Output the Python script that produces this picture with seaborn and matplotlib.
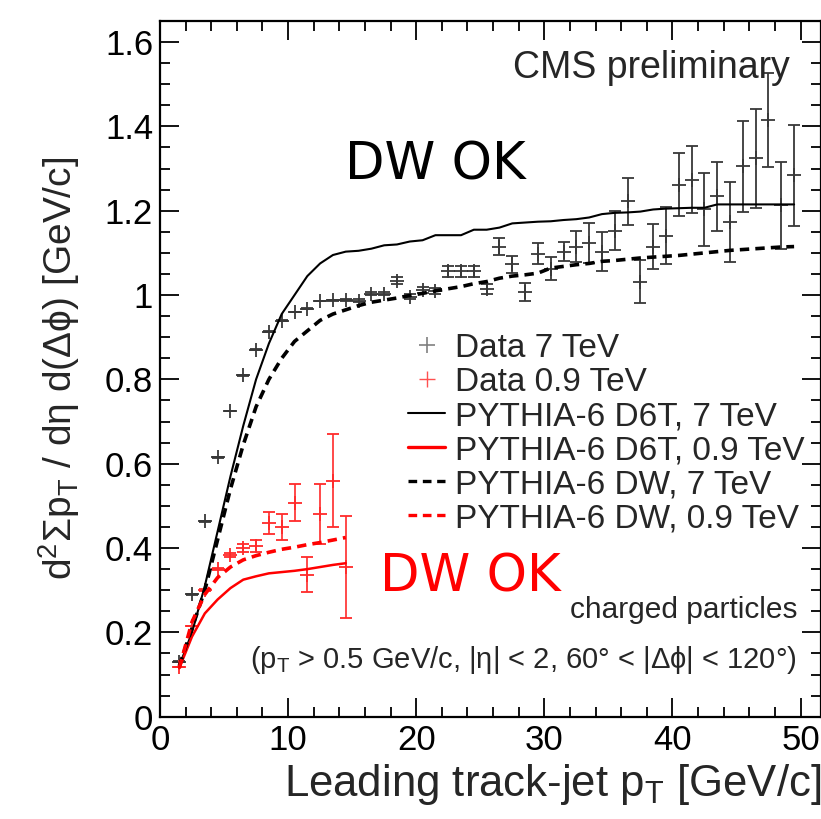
import matplotlib
matplotlib.use("Agg")
import matplotlib.pyplot as plt
import seaborn as sns
import pandas as pd
from matplotlib.lines import Line2D
from matplotlib.ticker import MultipleLocator

# ---------------- data ----------------
x_7 = [1.5, 2.5, 3.5, 4.5, 5.5, 6.5, 7.5, 8.5, 9.5, 10.5, 11.5, 12.5, 13.5, 14.5,
       15.5, 16.5, 17.5, 18.5, 19.5, 20.5, 21.5, 22.5, 23.5, 24.5, 25.5, 26.5, 27.5,
       28.5, 29.5, 30.5, 31.5, 32.5, 33.5, 34.5, 35.5, 36.5, 37.5, 38.5, 39.5, 40.5,
       41.5, 42.5, 43.5, 44.5, 45.5, 46.5, 47.5, 48.5, 49.5]
data_7 = [0.13, 0.29, 0.463, 0.615, 0.725, 0.81, 0.87, 0.913, 0.939, 0.96, 0.968,
          0.986, 0.988, 0.989, 0.987, 1.003, 1.003, 1.034, 0.996, 1.013, 1.01, 1.056,
          1.056, 1.056, 1.015, 1.115, 1.073, 1.007, 1.098, 1.063, 1.103, 1.115, 1.124,
          1.103, 1.153, 1.222, 1.032, 1.115, 1.141, 1.262, 1.274, 1.203, 1.234, 1.174,
          1.305, 1.324, 1.415, 1.213, 1.284]
err_7 = [0.001, 0.001, 0.001, 0.001, 0.001, 0.001, 0.001, 0.001, 0.001, 0.001, 0.001,
         0.001, 0.001, 0.002, 0.003, 0.004, 0.004, 0.008, 0.006, 0.007, 0.007, 0.012,
         0.012, 0.012, 0.012, 0.02, 0.02, 0.022, 0.025, 0.028, 0.022, 0.036, 0.048,
         0.047, 0.047, 0.055, 0.05, 0.054, 0.067, 0.075, 0.079, 0.087, 0.082, 0.095,
         0.109, 0.117, 0.112, 0.103, 0.12]
d6t_7 = [0.12, 0.20, 0.31, 0.44, 0.57, 0.69, 0.80, 0.885, 0.955, 1.0, 1.045, 1.075,
         1.095, 1.103, 1.105, 1.11, 1.118, 1.12, 1.127, 1.13, 1.142, 1.142, 1.142,
         1.155, 1.155, 1.16, 1.17, 1.172, 1.174, 1.175, 1.178, 1.18, 1.184, 1.192,
         1.195, 1.196, 1.198, 1.203, 1.205, 1.206, 1.207, 1.207, 1.215, 1.215, 1.215,
         1.215, 1.215, 1.215, 1.215]
dw_7 = [0.12, 0.21, 0.30, 0.42, 0.54, 0.645, 0.735, 0.80, 0.85, 0.89, 0.915, 0.94,
        0.955, 0.965, 0.975, 0.983, 0.988, 0.993, 0.999, 1.004, 1.01, 1.015, 1.02,
        1.027, 1.032, 1.04, 1.045, 1.048, 1.052, 1.064, 1.068, 1.072, 1.075, 1.08,
        1.082, 1.085, 1.088, 1.09, 1.092, 1.094, 1.097, 1.1, 1.103, 1.106, 1.108,
        1.11, 1.112, 1.114, 1.115]

x_09 = [1.5, 2.5, 3.5, 4.5, 5.5, 6.5, 7.5, 8.5, 9.5, 10.5, 11.5, 12.5, 13.5, 14.5]
data_09 = [0.118, 0.215, 0.30, 0.351, 0.383, 0.40, 0.404, 0.459, 0.45, 0.508, 0.337,
           0.48, 0.56, 0.355]
err_09 = [0.001, 0.001, 0.002, 0.002, 0.005, 0.01, 0.014, 0.026, 0.03, 0.043, 0.042,
          0.071, 0.11, 0.12]
d6t_09 = [0.115, 0.19, 0.245, 0.278, 0.305, 0.325, 0.333, 0.34, 0.343, 0.346, 0.35,
          0.355, 0.36, 0.364]
dw_09 = [0.115, 0.225, 0.29, 0.33, 0.355, 0.372, 0.382, 0.39, 0.397, 0.402, 0.408,
         0.413, 0.419, 0.425]

legend_labels = ["Data 7 TeV", "Data 0.9 TeV", "PYTHIA-6 D6T, 7 TeV",
                 "PYTHIA-6 D6T, 0.9 TeV", "PYTHIA-6 DW, 7 TeV", "PYTHIA-6 DW, 0.9 TeV"]

# ---------------- style ----------------
sns.set_theme(style="ticks")
plt.rcParams["font.family"] = ["Liberation Sans", "DejaVu Sans"]
plt.rcParams["mathtext.fontset"] = "custom"
plt.rcParams["mathtext.rm"] = "Liberation Sans"
plt.rcParams["mathtext.it"] = "Liberation Sans:italic"
plt.rcParams["mathtext.bf"] = "Liberation Sans:bold"

W, H = 821, 819
fig = plt.figure(figsize=(W / 100, H / 100), dpi=100)
ax = fig.add_axes([160 / W, (H - 716.7) / H, (W - 160) / W, (716.7 - 21) / H])

BLACK_DATA = "#383838"
RED_DATA = "#ff2a2a"
DASH = (0, (2.6, 1.7))

df7 = pd.DataFrame({"x": x_7, "d6t": d6t_7, "dw": dw_7})
df09 = pd.DataFrame({"x": x_09, "d6t": d6t_09, "dw": dw_09})

# data
ax.errorbar(x_7, data_7, yerr=err_7, fmt="+", color=BLACK_DATA, ms=9.5, mew=1.3,
            elinewidth=1.3, capsize=4.2, capthick=1.3, zorder=3)
ax.errorbar(x_09, data_09, yerr=err_09, fmt="+", color=RED_DATA, ms=9.5, mew=1.3,
            elinewidth=1.2, capsize=4.2, capthick=1.2, zorder=3)

# model curves
sns.lineplot(data=df7, x="x", y="d6t", ax=ax, color="black", lw=1.5, zorder=4)
sns.lineplot(data=df09, x="x", y="d6t", ax=ax, color="red", lw=1.8, zorder=4)
sns.lineplot(data=df7, x="x", y="dw", ax=ax, color="black", lw=2.6, ls=DASH, zorder=4)
sns.lineplot(data=df09, x="x", y="dw", ax=ax, color="red", lw=2.6, ls=DASH, zorder=4)

# axes
ax.set_xlim(0, 51.6)
ax.set_ylim(0, 1.65)
ax.xaxis.set_major_locator(MultipleLocator(10))
ax.xaxis.set_minor_locator(MultipleLocator(2))
ax.yaxis.set_major_locator(MultipleLocator(0.2))
ax.yaxis.set_minor_locator(MultipleLocator(0.05))
ax.xaxis.set_major_formatter(lambda v, p: f"{v:g}")
ax.yaxis.set_major_formatter(lambda v, p: f"{v:g}")
ax.tick_params(which="both", direction="in", top=True, right=True, width=1.3,
               colors="black", labelsize=25)
ax.tick_params(which="major", length=14)
ax.tick_params(which="minor", length=7)
ax.tick_params(axis="x", pad=5)
ax.tick_params(axis="y", pad=5)
for s in ax.spines.values():
    s.set_linewidth(1.6)
    s.set_color("black")

ax.set_xlabel(r"Leading track-jet p$_\mathrm{T}$ [GeV/c]", fontsize=31.5, loc="right",
              labelpad=4)
ax.set_ylabel(r"d$^\mathrm{2}$Σp$_\mathrm{T}$ / dη d(Δϕ) [GeV/c]", fontsize=28)
ax.yaxis.set_label_coords(-0.118, 0.5)

# legend
handles = [
    Line2D([], [], marker="+", ls="none", color="#808080", ms=11, mew=1.2),
    Line2D([], [], marker="+", ls="none", color="#ff5050", ms=11, mew=1.0),
    Line2D([], [], color="black", lw=1.5),
    Line2D([], [], color="red", lw=2.4),
    Line2D([], [], color="black", lw=2.4, ls=DASH),
    Line2D([], [], color="red", lw=2.4, ls=DASH),
]
ax.legend(handles, legend_labels, loc="upper left",
          bbox_to_anchor=(408 / W, 1 - 333 / H), bbox_transform=fig.transFigure,
          frameon=False, fontsize=24, handlelength=1.12, handletextpad=0.3,
          labelspacing=0.09, borderpad=0, borderaxespad=0)

# annotations
ax.text(0.953, 0.932, "CMS preliminary", transform=ax.transAxes, ha="right",
        va="center", fontsize=27)
fig.text(345 / W, 1 - 165 / H, "DW OK", ha="left", va="center", fontsize=37,
         family="DejaVu Sans", color="black")
fig.text(380 / W, 1 - 578 / H, "DW OK", ha="left", va="center", fontsize=37,
         family="DejaVu Sans", color="red")
fig.text(797 / W, 1 - 610 / H, "charged particles", ha="right", va="center",
         fontsize=21.5)
fig.text(797 / W, 1 - 660 / H,
         r"(p$_\mathrm{T}$ > 0.5 GeV/c, |η| < 2, 60° < |Δϕ| < 120°)",
         ha="right", va="center", fontsize=21)

fig.savefig("out.png", dpi=100)
